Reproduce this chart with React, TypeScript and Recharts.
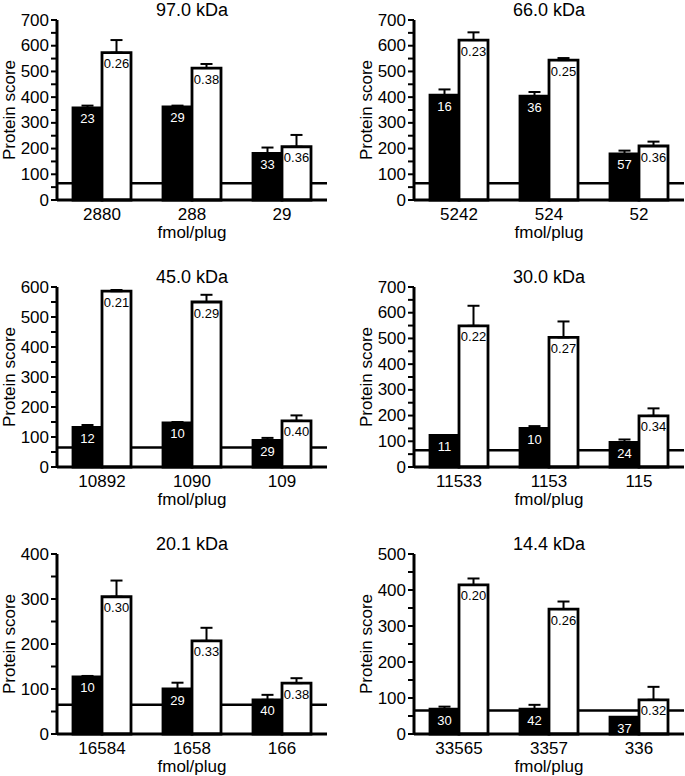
import React from 'react';
import {
  BarChart,
  Bar,
  XAxis,
  YAxis,
  ReferenceLine,
  ErrorBar,
  LabelList,
} from 'recharts';

// one entry per panel, read left-to-right, top-to-bottom
const panelTitles = ['97.0 kDa', '66.0 kDa', '45.0 kDa', '30.0 kDa', '20.1 kDa', '14.4 kDa'];

const fmolCategories = [
  ['2880', '288', '29'],
  ['5242', '524', '52'],
  ['10892', '1090', '109'],
  ['11533', '1153', '115'],
  ['16584', '1658', '166'],
  ['33565', '3357', '336'],
];

const blackScores = [
  [358, 362, 181],
  [408, 404, 179],
  [132, 147, 89],
  [123, 150, 96],
  [127, 100, 76],
  [69, 69, 47],
];
const blackErrors = [
  [9, 5, 23],
  [22, 16, 13],
  [8, 3, 8],
  [1, 9, 11],
  [2, 14, 11],
  [7, 12, 0],
];
const whiteScores = [
  [573, 513, 207],
  [622, 544, 210],
  [586, 550, 154],
  [549, 504, 199],
  [305, 207, 113],
  [414, 347, 95],
];
const whiteErrors = [
  [49, 16, 46],
  [30, 8, 17],
  [4, 24, 18],
  [78, 62, 29],
  [36, 29, 11],
  [18, 21, 36],
];

const blackLabels = [
  ['23', '29', '33'],
  ['16', '36', '57'],
  ['12', '10', '29'],
  ['11', '10', '24'],
  ['10', '29', '40'],
  ['30', '42', '37'],
];
const whiteLabels = [
  ['0.26', '0.38', '0.36'],
  ['0.23', '0.25', '0.36'],
  ['0.21', '0.29', '0.40'],
  ['0.22', '0.27', '0.34'],
  ['0.30', '0.33', '0.38'],
  ['0.20', '0.26', '0.32'],
];

const yMaxima = [700, 700, 600, 700, 400, 500];
const THRESHOLD = 65;

const CHART_W = 329;
const CHART_H = 242;
const AXIS_W = 57;
const PLOT_W = 270;
const MARGIN = { top: 20, right: 2, bottom: 0, left: 0 };
const COL_LEFT = [0, 357];
const ROW_TOP = [0, 267, 534];
const FONT = '"Liberation Sans", Arial, sans-serif';

const renderYTick = (props: any) => {
  const { x, y, payload } = props;
  if (payload.value % 100 !== 0) return <g />;
  return (
    <text x={x} y={y} textAnchor="end" dominantBaseline="central" fontSize={17} fill="#000">
      {payload.value}
    </text>
  );
};

const renderScoreLabel = (props: any) => {
  const vb = props.viewBox || {};
  const cx = vb.x + 9;
  const cy = vb.y + vb.height / 2;
  return (
    <text
      x={cx}
      y={cy}
      transform={`rotate(-90 ${cx} ${cy})`}
      textAnchor="middle"
      dominantBaseline="central"
      fontSize={17}
      fill="#000"
    >
      Protein score
    </text>
  );
};

const renderFmolLabel = (props: any) => {
  const vb = props.viewBox || {};
  return (
    <text
      x={vb.x + vb.width / 2}
      y={vb.y + 32}
      textAnchor="middle"
      dominantBaseline="central"
      fontSize={17}
      fill="#000"
    >
      fmol/plug
    </text>
  );
};

const barLabel = (color: string) => (props: any) => {
  const { x, y, width, value } = props;
  return (
    <text
      x={x + width / 2}
      y={y + 11}
      textAnchor="middle"
      dominantBaseline="central"
      fontSize={13}
      fill={color}
    >
      {value}
    </text>
  );
};

const ScorePanel = ({ index }: { index: number }) => {
  const data = fmolCategories[index].map((fmol, i) => ({
    fmol,
    black: blackScores[index][i],
    blackErr: [0, blackErrors[index][i]],
    blackLabel: blackLabels[index][i],
    white: whiteScores[index][i],
    whiteErr: [0, whiteErrors[index][i]],
    whiteLabel: whiteLabels[index][i],
  }));
  const yMax = yMaxima[index];
  const ticks: number[] = [];
  for (let v = 0; v <= yMax; v += 50) ticks.push(v);

  const left = COL_LEFT[index % 2];
  const top = ROW_TOP[Math.floor(index / 2)];

  return (
    <div style={{ position: 'absolute', left, top, width: CHART_W, height: CHART_H }}>
      <div
        style={{
          position: 'absolute',
          left: AXIS_W,
          top: 0,
          width: PLOT_W,
          height: 20,
          lineHeight: '20px',
          fontSize: 18,
          textAlign: 'center',
        }}
      >
        {panelTitles[index]}
      </div>
      <BarChart width={CHART_W} height={CHART_H} data={data} margin={MARGIN} barGap={0} barSize={29}>
        <XAxis
          dataKey="fmol"
          height={42}
          tickLine={false}
          axisLine={{ stroke: '#000', strokeWidth: 3 }}
          tick={{ fill: '#000', fontSize: 17 }}
          tickSize={5}
          tickMargin={3}
          label={renderFmolLabel}
        />
        <YAxis
          width={AXIS_W}
          domain={[0, yMax]}
          ticks={ticks}
          interval={0}
          axisLine={{ stroke: '#000', strokeWidth: 3 }}
          tickLine={{ stroke: '#000', strokeWidth: 2 }}
          tickSize={6}
          tickMargin={2}
          tick={renderYTick}
          label={renderScoreLabel}
        />
        <ReferenceLine y={THRESHOLD} stroke="#000" strokeWidth={2.5} zIndex={100} />
        <Bar dataKey="black" fill="#000" stroke="#000" strokeWidth={2.8} isAnimationActive={false}>
          <ErrorBar dataKey="blackErr" width={6} stroke="#000" strokeWidth={2} direction="y" />
          <LabelList dataKey="blackLabel" content={barLabel('#fff')} />
        </Bar>
        <Bar dataKey="white" fill="#fff" stroke="#000" strokeWidth={2.8} isAnimationActive={false}>
          <ErrorBar dataKey="whiteErr" width={6} stroke="#000" strokeWidth={2} direction="y" />
          <LabelList dataKey="whiteLabel" content={barLabel('#000')} />
        </Bar>
      </BarChart>
    </div>
  );
}

export default function App() {
  return (
    <div
      style={{
        position: 'absolute',
        left: 0,
        top: 0,
        width: 685,
        height: 776,
        overflow: 'hidden',
        background: '#fff',
        fontFamily: FONT,
      }}
    >
      {panelTitles.map((_, i) => (
        <ScorePanel key={i} index={i} />
      ))}
    </div>
  );
}
